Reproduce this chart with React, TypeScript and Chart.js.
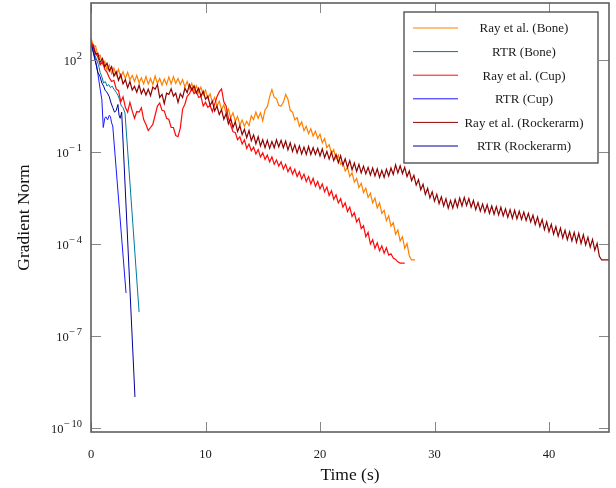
import React, { useEffect, useRef } from 'react';
import { Chart, registerables } from 'chart.js';

Chart.register(...registerables);

// ---- data: [time in seconds, log10(gradient norm)] ----
const rayBone: [number, number][] = [
  [0, 2.72], [0.2, 2.46], [0.4, 2.46], [0.6, 2.12], [0.8, 2.16], [1.0, 1.88], [1.2, 1.96], [1.4, 1.68], [1.6, 1.84], [1.8, 1.56],
  [2.0, 1.74], [2.2, 1.5], [2.4, 1.7], [2.6, 1.44], [2.8, 1.62], [3.0, 1.4], [3.2, 1.6], [3.4, 1.36], [3.6, 1.5], [3.8, 1.3],
  [4.0, 1.5], [4.2, 1.26], [4.4, 1.42], [4.6, 1.22], [4.8, 1.46], [5.0, 1.22], [5.2, 1.4], [5.4, 1.2], [5.6, 1.48], [5.8, 1.24],
  [6.0, 1.4], [6.2, 1.18], [6.4, 1.38], [6.6, 1.2], [6.8, 1.45], [7.0, 1.22], [7.2, 1.46], [7.4, 1.24], [7.6, 1.4], [7.8, 1.2],
  [8.0, 1.36], [8.2, 1.12], [8.4, 1.3], [8.6, 1.06], [8.8, 1.24], [9.0, 0.98], [9.2, 1.16], [9.4, 0.94], [9.6, 1.12], [9.8, 0.86],
  [10.0, 1.02], [10.2, 0.76], [10.4, 0.9], [10.6, 0.62], [10.8, 0.78], [11.0, 0.5], [11.2, 0.66], [11.4, 0.38], [11.6, 0.54], [11.8, 0.26],
  [12.0, 0.4], [12.2, 0.12], [12.4, 0.28], [12.6, 0.0], [12.8, 0.16], [13.0, -0.12], [13.2, 0.04], [13.4, -0.16], [13.6, 0.0], [13.8, -0.14],
  [14.0, 0.18], [14.2, 0.06], [14.4, 0.3], [14.6, 0.1], [14.8, 0.28], [15.0, 0.02], [15.2, 0.38], [15.4, 0.48], [15.6, 0.8], [15.8, 1.04],
  [16.0, 0.78], [16.2, 0.74], [16.4, 0.52], [16.6, 0.5], [16.8, 0.62], [17.0, 0.88], [17.2, 0.72], [17.4, 0.36], [17.6, 0.3], [17.8, 0.05],
  [18.0, 0.12], [18.2, -0.16], [18.4, -0.02], [18.6, -0.3], [18.8, -0.16], [19.0, -0.4], [19.2, -0.24], [19.4, -0.48], [19.6, -0.32], [19.8, -0.56],
  [20.0, -0.42], [20.2, -0.7], [20.4, -0.56], [20.6, -0.86], [20.8, -0.76], [21.0, -1.04], [21.2, -0.92], [21.4, -1.22], [21.6, -1.1], [21.8, -1.4],
  [22.0, -1.34], [22.2, -1.62], [22.4, -1.5], [22.6, -1.8], [22.8, -1.68], [23.0, -1.98], [23.2, -1.86], [23.4, -2.16], [23.6, -2.02], [23.8, -2.32],
  [24.0, -2.18], [24.2, -2.48], [24.4, -2.34], [24.6, -2.66], [24.8, -2.5], [25.0, -2.82], [25.2, -2.66], [25.4, -3.0], [25.6, -2.9], [25.8, -3.24],
  [26.0, -3.08], [26.2, -3.42], [26.4, -3.3], [26.6, -3.68], [26.8, -3.54], [27.0, -3.9], [27.2, -3.76], [27.4, -4.14], [27.6, -3.98], [27.8, -4.38],
  [28.0, -4.52], [28.3, -4.52],
];

const rtrBone: [number, number][] = [
  [0, 2.65], [0.15, 2.35], [0.3, 2.2], [0.5, 2.0], [0.65, 1.85], [0.8, 1.6], [0.95, 1.45], [1.1, 1.25], [1.25, 1.3], [1.4, 1.15],
  [1.55, 1.2], [1.7, 1.1], [1.85, 1.15], [2.0, 1.05], [2.2, 0.95], [2.35, 0.85], [2.5, 0.7], [2.65, 0.5], [2.8, 0.45], [2.97, 0.27],
  [4.2, -6.22],
];

const rayCup: [number, number][] = [
  [0, 2.55], [0.2, 2.5], [0.4, 2.22], [0.6, 2.1], [0.8, 1.84], [1.0, 1.94], [1.2, 1.7], [1.4, 1.6], [1.6, 1.42], [1.8, 1.3],
  [2.0, 1.34], [2.2, 1.06], [2.4, 1.0], [2.6, 0.64], [2.8, 0.8], [3.0, 0.46], [3.2, 0.3], [3.4, 0.62], [3.6, 0.34], [3.8, 0.1],
  [4.0, 0.32], [4.2, 0.3], [4.4, 0.44], [4.6, 0.06], [4.8, -0.1], [5.0, -0.3], [5.2, -0.2], [5.4, -0.1], [5.6, 0.2], [5.8, 0.5],
  [6.0, 0.6], [6.2, 0.36], [6.4, 0.34], [6.6, 0.1], [6.8, 0.06], [7.0, -0.2], [7.2, -0.2], [7.4, -0.46], [7.6, -0.5], [7.8, -0.22],
  [8.0, 0.4], [8.2, 0.56], [8.4, 0.82], [8.6, 0.9], [8.8, 1.08], [9.0, 0.9], [9.2, 0.98], [9.4, 0.78], [9.6, 0.82], [9.8, 0.5],
  [10.0, 0.62], [10.2, 0.46], [10.4, 0.52], [10.6, 0.32], [10.8, 0.56], [11.0, 0.8], [11.2, 0.96], [11.4, 1.06], [11.6, 0.64], [11.8, 0.5],
  [12.0, 0.1], [12.2, -0.12], [12.4, -0.34], [12.6, -0.36], [12.8, -0.6], [13.0, -0.5], [13.2, -0.74], [13.4, -0.6], [13.6, -0.88], [13.8, -0.74],
  [14.0, -0.96], [14.2, -0.84], [14.4, -1.06], [14.6, -0.92], [14.8, -1.16], [15.0, -1.02], [15.2, -1.24], [15.4, -1.1], [15.6, -1.32], [15.8, -1.16],
  [16.0, -1.4], [16.2, -1.26], [16.4, -1.46], [16.6, -1.32], [16.8, -1.56], [17.0, -1.4], [17.2, -1.64], [17.4, -1.5], [17.6, -1.72], [17.8, -1.56],
  [18.0, -1.8], [18.2, -1.64], [18.4, -1.88], [18.6, -1.72], [18.8, -1.96], [19.0, -1.8], [19.2, -2.04], [19.4, -1.86], [19.6, -2.12], [19.8, -1.96],
  [20.0, -2.2], [20.2, -2.04], [20.4, -2.3], [20.6, -2.14], [20.8, -2.42], [21.0, -2.26], [21.2, -2.54], [21.4, -2.4], [21.6, -2.66], [21.8, -2.52],
  [22.0, -2.8], [22.2, -2.66], [22.4, -2.94], [22.6, -2.8], [22.8, -3.1], [23.0, -2.98], [23.2, -3.28], [23.4, -3.16], [23.6, -3.5], [23.8, -3.4],
  [24.0, -3.76], [24.2, -3.62], [24.4, -4.0], [24.6, -3.86], [24.8, -4.14], [25.0, -3.96], [25.2, -4.22], [25.4, -4.06], [25.6, -4.3], [25.8, -4.12],
  [26.0, -4.36], [26.2, -4.32], [26.4, -4.46], [26.6, -4.5], [26.8, -4.58], [27.0, -4.62], [27.4, -4.62],
];

const rtrCup: [number, number][] = [
  [0, 2.5], [0.2, 2.3], [0.5, 1.8], [0.8, 1.05], [0.95, 0.7], [1.07, -0.2], [1.2, 0.1], [1.3, 0.15], [1.45, 0.05], [1.6, 0.2],
  [1.7, 0.15], [1.8, -0.05], [1.9, -0.15], [3.06, -5.6],
];

const rayRockerarm: [number, number][] = [
  [0, 2.5], [0.2, 2.42], [0.4, 2.2], [0.6, 2.22], [0.8, 1.93], [1.0, 2.05], [1.2, 1.78], [1.4, 1.9], [1.6, 1.64], [1.8, 1.78],
  [2.0, 1.48], [2.2, 1.62], [2.4, 1.34], [2.6, 1.52], [2.8, 1.22], [3.0, 1.36], [3.2, 1.1], [3.4, 1.3], [3.6, 1.02], [3.8, 1.14],
  [4.0, 0.95], [4.2, 1.18], [4.4, 0.9], [4.6, 1.06], [4.8, 0.86], [5.0, 1.05], [5.2, 0.84], [5.4, 1.12], [5.6, 1.05], [5.8, 1.2],
  [6.0, 0.78], [6.2, 0.88], [6.4, 0.58], [6.6, 0.92], [6.8, 0.88], [7.0, 1.06], [7.2, 0.82], [7.4, 0.92], [7.6, 0.62], [7.8, 0.9],
  [8.0, 0.78], [8.2, 1.08], [8.4, 0.94], [8.6, 1.2], [8.8, 1.02], [9.0, 1.16], [9.2, 0.92], [9.4, 1.08], [9.6, 0.82], [9.8, 0.98],
  [10.0, 0.72], [10.2, 0.82], [10.4, 0.52], [10.6, 0.66], [10.8, 0.34], [11.0, 0.5], [11.2, 0.22], [11.4, 0.38], [11.6, 0.07], [11.8, 0.25],
  [12.0, -0.08], [12.2, 0.1], [12.4, -0.2], [12.6, -0.02], [12.8, -0.33], [13.0, -0.14], [13.2, -0.43], [13.4, -0.26], [13.6, -0.53], [13.8, -0.3],
  [14.0, -0.63], [14.2, -0.44], [14.4, -0.73], [14.6, -0.5], [14.8, -0.8], [15.0, -0.6], [15.2, -0.86], [15.4, -0.62], [15.6, -0.88], [15.8, -0.66],
  [16.0, -0.86], [16.2, -0.6], [16.4, -0.83], [16.6, -0.62], [16.8, -0.86], [17.0, -0.64], [17.2, -0.93], [17.4, -0.7], [17.6, -0.98], [17.8, -0.76],
  [18.0, -1.03], [18.2, -0.8], [18.4, -1.06], [18.6, -0.84], [18.8, -1.08], [19.0, -0.82], [19.2, -1.08], [19.4, -0.86], [19.6, -1.08], [19.8, -0.88],
  [20.0, -1.13], [20.2, -0.9], [20.4, -1.18], [20.6, -0.98], [20.8, -1.23], [21.0, -1.0], [21.2, -1.28], [21.4, -1.08], [21.6, -1.35], [21.8, -1.12],
  [22.0, -1.43], [22.2, -1.22], [22.4, -1.5], [22.6, -1.28], [22.8, -1.58], [23.0, -1.36], [23.2, -1.63], [23.4, -1.4], [23.6, -1.68], [23.8, -1.46],
  [24.0, -1.71], [24.2, -1.5], [24.4, -1.75], [24.6, -1.52], [24.8, -1.78], [25.0, -1.55], [25.2, -1.83], [25.4, -1.6], [25.6, -1.83], [25.8, -1.56],
  [26.0, -1.78], [26.2, -1.52], [26.4, -1.73], [26.6, -1.42], [26.8, -1.68], [27.0, -1.45], [27.2, -1.7], [27.4, -1.5], [27.6, -1.8], [27.8, -1.62],
  [28.0, -1.93], [28.2, -1.76], [28.4, -2.08], [28.6, -1.9], [28.8, -2.23], [29.0, -2.05], [29.2, -2.38], [29.4, -2.18], [29.6, -2.5], [29.8, -2.3],
  [30.0, -2.6], [30.2, -2.38], [30.4, -2.68], [30.6, -2.46], [30.8, -2.76], [31.0, -2.52], [31.2, -2.83], [31.4, -2.58], [31.6, -2.83], [31.8, -2.55],
  [32.0, -2.8], [32.2, -2.5], [32.4, -2.76], [32.6, -2.48], [32.8, -2.74], [33.0, -2.52], [33.2, -2.8], [33.4, -2.58], [33.6, -2.88], [33.8, -2.65],
  [34.0, -2.93], [34.2, -2.7], [34.4, -2.96], [34.6, -2.72], [34.8, -3.0], [35.0, -2.76], [35.2, -3.03], [35.4, -2.78], [35.6, -3.05], [35.8, -2.8],
  [36.0, -3.08], [36.2, -2.85], [36.4, -3.13], [36.6, -2.88], [36.8, -3.16], [37.0, -2.9], [37.2, -3.18], [37.4, -2.93], [37.6, -3.2], [37.8, -2.96],
  [38.0, -3.23], [38.2, -3.0], [38.4, -3.28], [38.6, -3.06], [38.8, -3.36], [39.0, -3.12], [39.2, -3.43], [39.4, -3.2], [39.6, -3.53], [39.8, -3.28],
  [40.0, -3.6], [40.2, -3.36], [40.4, -3.68], [40.6, -3.43], [40.8, -3.74], [41.0, -3.48], [41.2, -3.8], [41.4, -3.55], [41.6, -3.86], [41.8, -3.6],
  [42.0, -3.9], [42.2, -3.62], [42.4, -3.94], [42.6, -3.65], [42.8, -3.98], [43.0, -3.7], [43.2, -4.03], [43.4, -3.78], [43.6, -4.1], [43.8, -3.85],
  [44.0, -4.2], [44.2, -3.98], [44.4, -4.4], [44.6, -4.52], [45.24, -4.52],
];

const rtrRockerarm: [number, number][] = [
  [0, 2.5], [0.1, 2.4], [0.35, 2.0], [0.6, 1.6], [0.8, 1.45], [0.95, 1.25], [1.1, 1.15], [1.25, 1.0], [1.4, 0.95], [1.6, 0.8],
  [1.75, 0.6], [1.9, 0.45], [2.05, 0.3], [2.2, 0.35], [2.35, 0.55], [2.45, 0.2], [2.55, 0.1], [2.68, 0.3], [3.84, -8.99],
];

const SERIES_LABELS = [
  'Ray et al. (Bone)',
  'RTR (Bone)',
  'Ray et al. (Cup)',
  'RTR (Cup)',
  'Ray et al. (Rockerarm)',
  'RTR (Rockerarm)',
];
const SERIES_DATA = [rayBone, rtrBone, rayCup, rtrCup, rayRockerarm, rtrRockerarm];
const SERIES_COLORS = [
  'rgb(255,128,0)',
  'rgb(0,120,160)',
  'rgb(255,10,10)',
  'rgb(25,25,255)',
  'rgb(145,0,0)',
  'rgb(0,0,155)',
];
const SERIES_WIDTHS = [1.2, 1, 1.2, 1, 1.2, 1];

const X_TICKS = [0, 10, 20, 30, 40];
const Y_TICK_EXPONENTS = [2, -1, -4, -7, -10];
const X_MAX = 45.24;
const Y_MIN_EXP = -10.13;
const Y_MAX_EXP = 3.86;
const X_TITLE = 'Time (s)';
const Y_TITLE = 'Gradient Norm';

const SERIF = '"Liberation Serif", "DejaVu Serif", serif';

const decorPlugin = {
  id: 'decor',
  afterDatasetsDraw(chart: any) {
    const { ctx, chartArea: a, scales } = chart;
    const xs = scales.x;
    const ys = scales.y;
    ctx.save();

    // inner tick marks on all four sides
    ctx.strokeStyle = 'rgb(135,135,135)';
    ctx.lineWidth = 1;
    ctx.beginPath();
    for (const v of X_TICKS) {
      const px = Math.round(xs.getPixelForValue(v)) + 0.5;
      ctx.moveTo(px, a.bottom);
      ctx.lineTo(px, a.bottom - 10);
      ctx.moveTo(px, a.top);
      ctx.lineTo(px, a.top + 10);
    }
    for (const e of Y_TICK_EXPONENTS) {
      const py = Math.round(ys.getPixelForValue(Math.pow(10, e))) + 0.5;
      ctx.moveTo(a.left, py);
      ctx.lineTo(a.left + 10, py);
      ctx.moveTo(a.right, py);
      ctx.lineTo(a.right - 10, py);
    }
    ctx.stroke();

    // frame
    ctx.strokeStyle = 'rgb(95,95,95)';
    ctx.lineWidth = 1.6;
    ctx.strokeRect(a.left, a.top, a.right - a.left, a.bottom - a.top);

    // y tick labels with superscript exponents
    ctx.fillStyle = '#1a1a1a';
    ctx.textAlign = 'left';
    ctx.textBaseline = 'middle';
    const baseFont = `12.5px ${SERIF}`;
    const expFont = `10.5px ${SERIF}`;
    for (const e of Y_TICK_EXPONENTS) {
      const py = ys.getPixelForValue(Math.pow(10, e));
      const minus = e < 0 ? '\u2212' : '';
      const digits = String(Math.abs(e));
      ctx.font = expFont;
      const wMinus = minus ? ctx.measureText(minus).width + 1.5 : 0;
      const wDigits = ctx.measureText(digits).width;
      const wExp = wMinus + wDigits;
      ctx.font = baseFont;
      const wBase = ctx.measureText('10').width;
      const right = a.left - 9;
      ctx.fillText('10', right - wExp - wBase - 0.5, py + 2);
      ctx.font = expFont;
      if (minus) ctx.fillText(minus, right - wExp, py - 4);
      ctx.fillText(digits, right - wDigits, py - 4);
    }

    // legend
    const bw = 194;
    const bh = 151;
    const bx = a.right - 11 - bw;
    const by = a.top + 9;
    ctx.fillStyle = '#ffffff';
    ctx.fillRect(bx, by, bw, bh);
    ctx.strokeStyle = 'rgb(70,70,70)';
    ctx.lineWidth = 1.3;
    ctx.strokeRect(bx, by, bw, bh);
    ctx.font = `13px ${SERIF}`;
    ctx.textAlign = 'center';
    ctx.textBaseline = 'middle';
    SERIES_LABELS.forEach((label, i) => {
      const ry = by + 16 + i * 23.6;
      ctx.strokeStyle = SERIES_COLORS[i];
      ctx.lineWidth = 1;
      ctx.beginPath();
      ctx.moveTo(bx + 9, ry);
      ctx.lineTo(bx + 54, ry);
      ctx.stroke();
      ctx.fillStyle = '#1a1a1a';
      ctx.fillText(label, bx + 120, ry + 1);
    });

    ctx.restore();
  },
};

export default function App() {
  const canvasRef = useRef<HTMLCanvasElement | null>(null);

  useEffect(() => {
    const canvas = canvasRef.current;
    if (!canvas) return;
    const n = SERIES_DATA.length;
    const datasets = SERIES_DATA.map((series, i) => ({
      label: SERIES_LABELS[i],
      data: series.map(([t, e]) => ({ x: t, y: Math.pow(10, e) })),
      borderColor: SERIES_COLORS[i],
      backgroundColor: SERIES_COLORS[i],
      borderWidth: SERIES_WIDTHS[i],
      pointRadius: 0,
      fill: false,
      tension: 0,
      order: n - i,
    }));

    const chart = new Chart(canvas, {
      type: 'line',
      data: { datasets },
      options: {
        animation: false,
        responsive: false,
        devicePixelRatio: 1,
        layout: { padding: { left: 8, right: 7, top: 3, bottom: 0 } },
        plugins: { legend: { display: false }, tooltip: { enabled: false } },
        scales: {
          x: {
            type: 'linear',
            min: 0,
            max: X_MAX,
            grid: { display: false },
            border: { display: false },
            ticks: {
              color: '#1a1a1a',
              font: { family: SERIF, size: 12.5 },
              padding: 7,
              maxRotation: 0,
            },
            afterBuildTicks: (s: any) => {
              s.ticks = X_TICKS.map((v) => ({ value: v }));
            },
            afterFit: (s: any) => {
              s.height = 56;
            },
            title: {
              display: true,
              text: X_TITLE,
              color: '#111',
              font: { family: SERIF, size: 17.5 },
              padding: { top: 0, bottom: 2.5 },
            },
          },
          y: {
            type: 'logarithmic',
            min: Math.pow(10, Y_MIN_EXP),
            max: Math.pow(10, Y_MAX_EXP),
            grid: { display: false },
            border: { display: false },
            ticks: { display: false },
            afterBuildTicks: (s: any) => {
              s.ticks = Y_TICK_EXPONENTS.map((e) => ({ value: Math.pow(10, e) }));
            },
            afterFit: (s: any) => {
              s.width = 83;
            },
            title: {
              display: true,
              text: Y_TITLE,
              color: '#111',
              font: { family: SERIF, size: 17.5 },
              padding: { top: 5.5, bottom: 0 },
            },
          },
        },
      },
      plugins: [decorPlugin],
    } as any);

    return () => chart.destroy();
  }, []);

  return (
    <div style={{ position: 'absolute', left: 0, top: 0, width: 616, height: 488, background: '#fff' }}>
      <canvas ref={canvasRef} width={616} height={488} style={{ display: 'block' }} />
    </div>
  );
}
